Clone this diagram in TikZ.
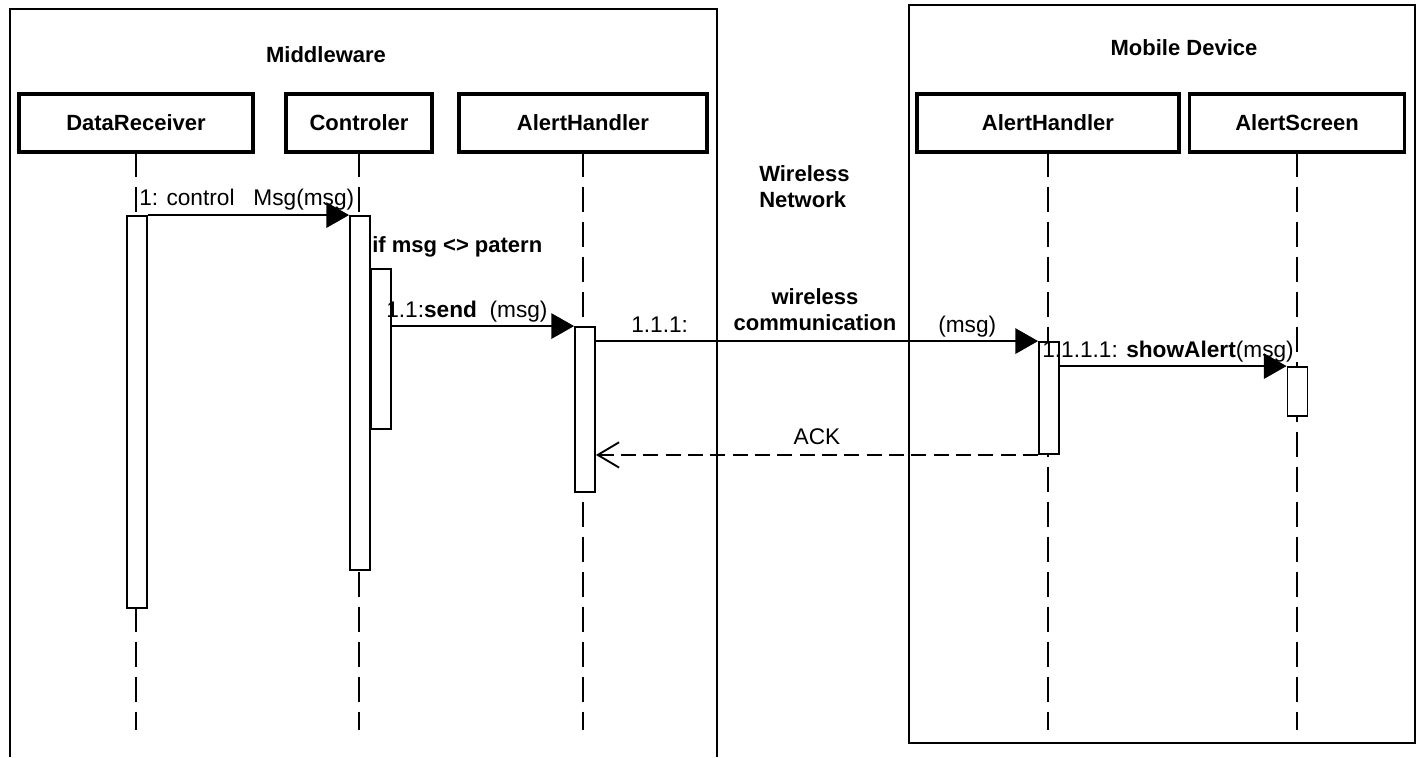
\documentclass[tikz,border=0pt]{standalone}
\usepackage{fontspec}
\setmainfont{Liberation Sans}
\usepackage{tikz}
\usetikzlibrary{arrows.meta}

\newcommand\msgfont{\fontsize{17}{20}\selectfont}
\newcommand\boldfont{\fontsize{16.5}{20}\selectfont\bfseries}

\tikzset{
  frame/.style={line width=1.4pt},
  header/.style={draw, line width=2.5pt, minimum height=43.5pt, inner sep=0pt, font=\boldfont},
  activation/.style={draw, fill=white, line width=1.4pt, minimum width=15pt, inner sep=0pt},
  lifeline/.style={line width=1.3pt, dash pattern=on 18.75pt off 7.5pt, dash phase=1.5pt},
  msg/.style={line width=1.4pt, -{Triangle[length=17pt,width=19pt]}},
  reply/.style={line width=1.4pt, dash pattern=on 11.25pt off 5.5pt, -{Straight Barb[length=16pt,width=19pt]}},
  lbl/.style={font=\msgfont, inner sep=0pt},
  blbl/.style={font=\boldfont, inner sep=0pt},
}

\begin{document}
\begin{tikzpicture}[x=0.75pt,y=-0.75pt]
    \useasboundingbox (0,0) rectangle (1417,757);

    % Frames
    \draw[frame] (10,757) -- (10,9) -- (717,9) -- (717,757);
    \draw[frame] (909,5) rectangle (1415,743);
    \node[blbl] (mwTitle) at (326,55) {Middleware};
    \node[blbl] (mdTitle) at (1184,48) {Mobile Device};
    \node[blbl, anchor=west, align=left] (netTitle) at (759,186.5) {Wireless\\Network};

    % Lifeline heads
    \node[header, minimum width=175.5pt] (hdDR) at (136,123) {DataReceiver};
    \node[header, minimum width=109.5pt] (hdCtrl) at (359,123) {Controler};
    \node[header, minimum width=186pt] (hdAH) at (583,123) {AlertHandler};
    \node[header, minimum width=196.5pt] (hdMAH) at (1048,123) {AlertHandler};
    \node[header, minimum width=161.25pt] (hdAS) at (1297,123) {AlertScreen};

    % Lifelines
    \coordinate (lineEnd) at (0,730);
    \foreach \h in {hdDR,hdCtrl,hdAH,hdMAH,hdAS}
        \draw[lifeline] (\h.south) -- (\h.south |- lineEnd);

    % Activations
    \node[activation, minimum height=294pt] (actDR) at (137,412) {};
    \node[activation, minimum height=265.5pt] (actCtrl) at (360,393) {};
    \node[activation, minimum height=120pt] (actCtrlB) at (381,349) {};
    \node[activation, minimum height=123.75pt] (actAH) at (585,409.5) {};
    \node[activation, minimum height=84pt] (actMAH) at (1049,398) {};
    \node[activation, minimum height=36.75pt] (actAS) at (1297.5,391.5) {};

    % Messages
    \draw[msg] (actDR.north east) -- (actCtrl.north west);
    \draw[msg] (actCtrlB.east |- actAH.north) -- (actAH.north west);
    \draw[msg] (actAH.east |- actMAH.north) -- (actMAH.north west);
    \draw[msg] (actMAH.east |- actAS.north) -- (actAS.north west);
    \draw[reply] (actMAH.south west) -- (actAH.east |- actMAH.south);

    % Labels
    \node[lbl, anchor=west] (lblCtrlMsg) at (139,200) {1: control\ \ \ Msg(msg)};
    \node[blbl, anchor=west] (lblGuard) at (372,247) {if msg <> patern};
    \node[lbl, anchor=west] (lblSend) at (386,312) {1.1:\textbf{send}\ \ (msg)};
    \node[lbl, anchor=west] (lblFwdNum) at (631,325) {1.1.1:};
    \node[blbl, align=center] (lblWireless) at (815,309.5) {wireless\\communication};
    \node[lbl, anchor=west] (lblFwdArg) at (938,327) {(msg)};
    \node[lbl, anchor=west] (lblShow) at (1042,352) {1.1.1.1: \textbf{showAlert}(msg)};
    \node[lbl] (lblAck) at (817,437) {ACK};
\end{tikzpicture}
\end{document}
